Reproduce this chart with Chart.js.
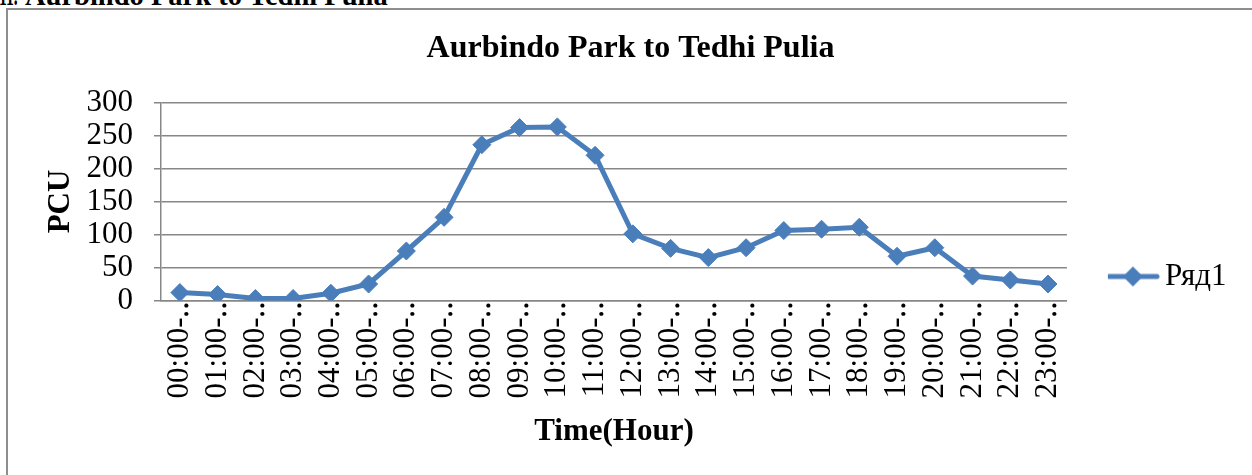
<!DOCTYPE html>
<html>
<head>
<meta charset="utf-8">
<script src="https://cdn.jsdelivr.net/npm/chart.js@4/dist/chart.umd.min.js"></script>
<style>
  html, body { margin: 0; padding: 0; background: #fff; width: 1252px; height: 475px; overflow: hidden; }
  #frame { position: absolute; left: 6px; top: 8px; width: 1400px; height: 700px;
           border-left: 2px solid #8e8e8e; border-top: 2px solid #8e8e8e; }
  .hd { position: absolute; top: -18px; font: bold 28.5px 'Liberation Serif', 'Times New Roman', serif;
        line-height: 28.5px; white-space: nowrap; color: #000; }
  #num { left: -1px; transform: scaleX(0.55); transform-origin: 0 0; }
  #heading { left: 25px; }
  #c { position: absolute; left: 0; top: 0; }
</style>
</head>
<body>
<div id="frame"></div>
<div class="hd" id="num">11.</div>
<div class="hd" id="heading">Aurbindo Park to Tedhi Pulia</div>
<canvas id="c" width="1252" height="475"></canvas>
<script>
// ---- data ----
const categories = ["00:00-01:00","01:00-02:00","02:00-03:00","03:00-04:00","04:00-05:00","05:00-06:00",
  "06:00-07:00","07:00-08:00","08:00-09:00","09:00-10:00","10:00-11:00","11:00-12:00",
  "12:00-13:00","13:00-14:00","14:00-15:00","15:00-16:00","16:00-17:00","17:00-18:00",
  "18:00-19:00","19:00-20:00","20:00-21:00","21:00-22:00","22:00-23:00","23:00-24:00"];
const tickLabels = categories.map(c => c.slice(0, 6) + "\u2025");
const seriesName = "Ряд1";
const pcuValues = [12, 9, 3, 3, 11, 25, 75, 126, 236, 262, 263, 220, 101, 79, 65, 80, 106, 108, 111, 67, 80, 37, 31, 25];
const yTicks = [0, 50, 100, 150, 200, 250, 300];
const chartTitle = "Aurbindo Park to Tedhi Pulia";
const xTitle = "Time(Hour)";
const yTitle = "PCU";

// ---- styles ----
const FONT = "'Liberation Serif', 'Times New Roman', serif";
const BLUE = "#4a7ebb";
const GRID = "#878787";

// legend symbol: line with diamond
const sym = document.createElement("canvas");
sym.width = 54; sym.height = 24;
(function () {
  const g = sym.getContext("2d");
  g.strokeStyle = BLUE; g.lineWidth = 5; g.lineCap = "round";
  g.beginPath(); g.moveTo(3, 12); g.lineTo(51, 12); g.stroke();
  g.fillStyle = BLUE;
  g.beginPath(); g.moveTo(27, 2); g.lineTo(37, 12); g.lineTo(27, 22); g.lineTo(17, 12); g.closePath(); g.fill();
})();

new Chart(document.getElementById("c"), {
  type: "line",
  data: {
    labels: tickLabels,
    datasets: [{
      label: seriesName,
      data: pcuValues,
      borderColor: BLUE,
      backgroundColor: BLUE,
      borderWidth: 5,
      pointStyle: "rectRot",
      pointRadius: 9,
      pointBorderWidth: 1,
      pointBackgroundColor: BLUE,
      pointBorderColor: BLUE,
      tension: 0,
      fill: false
    }]
  },
  options: {
    responsive: false,
    animation: false,
    devicePixelRatio: 1,
    layout: { padding: { left: 24.5, top: 11.5, right: 15.5, bottom: 0 } },
    plugins: {
      tooltip: { enabled: false },
      title: {
        display: true, text: chartTitle, color: "#000",
        font: { family: FONT, size: 32, weight: "bold" },
        padding: { top: 17.8, bottom: 34.8 }
      },
      legend: {
        display: true, position: "right", align: "end", fullSize: false,
        labels: {
          color: "#000", font: { family: FONT, size: 31 },
          usePointStyle: true, pointStyle: sym, pointStyleWidth: 33,
          padding: 8.5
        }
      }
    },
    scales: {
      x: {
        type: "category",
        offset: true,
        grid: { display: false, drawTicks: false },
        border: { display: true, color: GRID, width: 1.5 },
        ticks: {
          color: "#000", font: { family: FONT, size: 31 },
          minRotation: 90, maxRotation: 90, autoSkip: false, padding: 0
        },
        title: {
          display: true, text: xTitle, color: "#000",
          font: { family: FONT, size: 31, weight: "bold" },
          padding: { top: 13, bottom: 24 }
        },
        afterFit: (s) => { s.height = 174.5; }
      },
      y: {
        min: 0, max: 300,
        afterBuildTicks: (s) => { s.ticks = yTicks.map(v => ({ value: v })); },
        grid: { color: GRID, lineWidth: 1.5, drawTicks: true, tickLength: 7, tickColor: GRID },
        border: { display: true, color: GRID, width: 1.5 },
        ticks: {
          color: "#000", font: { family: FONT, size: 31 },
          padding: 21, autoSkip: false
        },
        title: {
          display: true, text: yTitle, color: "#000",
          font: { family: FONT, size: 31, weight: "bold" },
          padding: { top: 17.5, bottom: 10 }
        },
        afterFit: (s) => { s.width = 136.5; }
      },
      y2: {
        type: "linear", position: "right", display: true,
        grid: { display: false, drawTicks: false },
        border: { display: false },
        ticks: { display: false },
        afterFit: (s) => { s.width = 41; }
      }
    }
  }
});
</script>
</body>
</html>
